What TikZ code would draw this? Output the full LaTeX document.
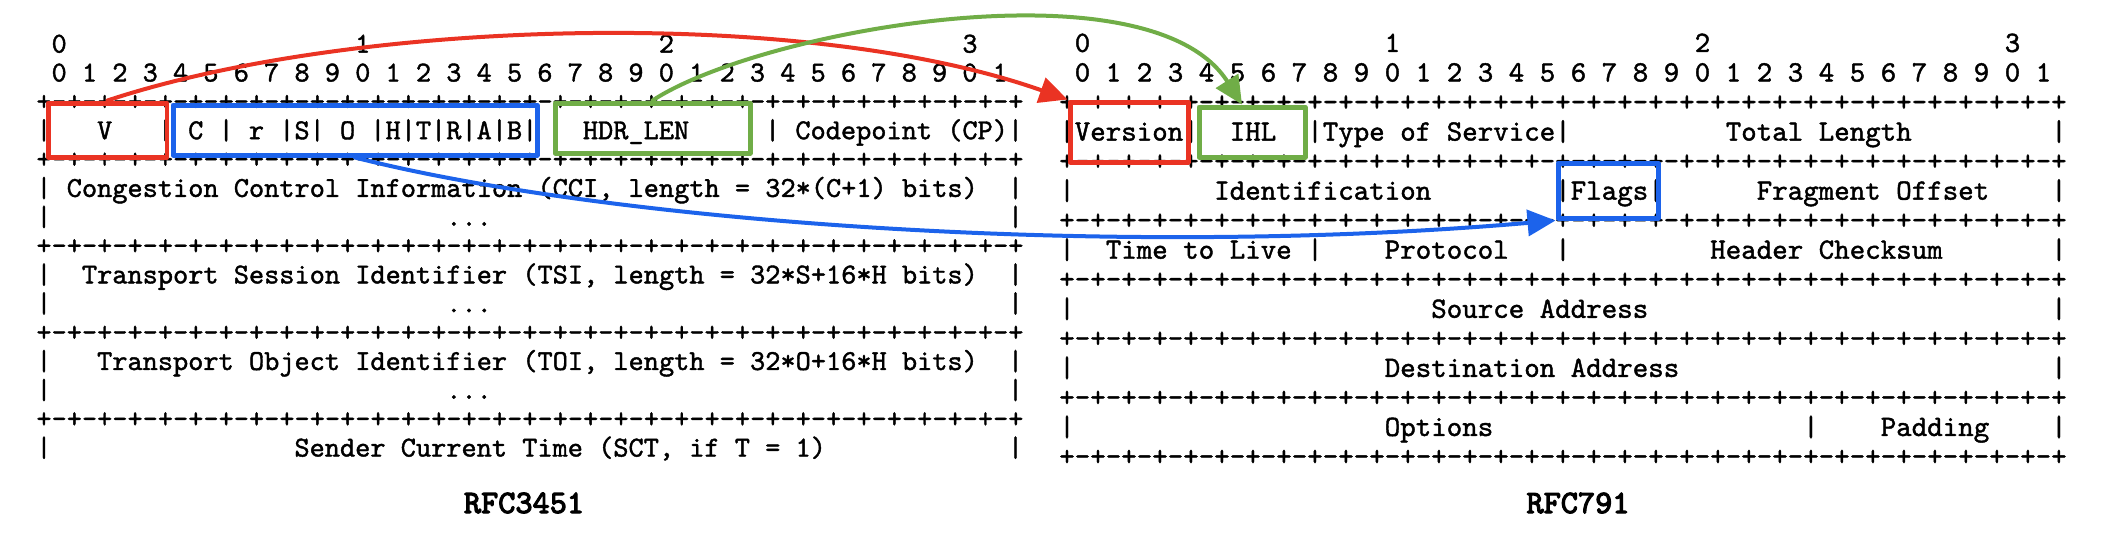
\documentclass[tikz,border=0pt]{standalone}
\usepackage{fontspec}
\usetikzlibrary{arrows.meta}
\newfontfamily\asciifont{lmmono10-regular.otf}[FakeBold=1.4]
\newfontfamily\rfcfont{lmmono10-regular.otf}[FakeBold=3.5]
\definecolor{boxred}{RGB}{234,51,35}
\definecolor{boxblue}{RGB}{28,99,235}
\definecolor{boxgreen}{RGB}{112,173,71}
\newcommand\sepline{+\foreach \i in {1,...,32}{-+}}
\begin{document}
\frenchspacing
\begin{tikzpicture}[line join=round,line cap=round,x=0.1mm,y=-0.1mm]
	\tikzset{asc/.style={anchor=base west,inner sep=0pt,outer sep=0pt},
		fieldbox/.style={draw,line width=0.5mm,inner sep=0pt},
		link/.style={line width=0.4mm,-{Triangle[length=2.8mm,width=2.6mm]}},
		rfc/.style={font=\fontsize{9.3}{10}\selectfont\rfcfont,inner sep=0pt}}
	\useasboundingbox (0,0) rectangle (2124,548);
	%RFC3451
	\begin{scope}[shift={(44,52.65)},x=1.518mm,y=-2.885mm,every node/.append style={font=\fontsize{8.23}{9}\selectfont\asciifont}]
		\foreach \t in {0,...,3} \node[asc] (lt\t) at (20*\t+0.5,0) {\t};
		\foreach \b [evaluate=\b as \d using {int(mod(\b,10))}] in {0,...,31} \node[asc] (lb\b) at (2*\b+0.5,1) {\d};
		\foreach \r in {2,4,7,10,13} \node[asc] (ls\r) at (-0.5,\r) {\sepline};
		\foreach \r in {3,5,6,8,9,11,12,14} {\node[asc] (lw\r) at (-0.5,\r) {|}; \node[asc] (le\r) at (63.5,\r) {|};}
		\foreach \r in {6,9,12} \node[asc] (ld\r) at (26.5,\r) {...};
		\foreach \c/\r/\t in {4/3/V,8/3/|,10/3/C,12/3/|,14/3/r,16/3/|S|,20/3/O,22/3/|H|T|R|A|B|,36/3/HDR\_LEN,48/3/|,50/3/Codepoint (CP),
			2/5/{Congestion Control Information (CCI, length = 32*(C+1) bits)},
			3/8/{Transport Session Identifier (TSI, length = 32*S+16*H bits)},
			4/11/{Transport Object Identifier (TOI, length = 32*O+16*H bits)},
			17/14/{Sender Current Time (SCT, if T = 1)}}
		\node[asc] (l\c-\r) at (\c-0.5,\r) {\t};
	\end{scope}
	%RFC791
	\begin{scope}[shift={(1067,51.96)},x=1.55mm,y=-2.954mm,every node/.append style={font=\fontsize{8.4}{9}\selectfont\asciifont}]
		\foreach \t in {0,...,3} \node[asc] (rt\t) at (20*\t+0.5,0) {\t};
		\foreach \b [evaluate=\b as \d using {int(mod(\b,10))}] in {0,...,31} \node[asc] (rb\b) at (2*\b+0.5,1) {\d};
		\foreach \r in {2,4,...,14} \node[asc] (rs\r) at (-0.5,\r) {\sepline};
		\foreach \r in {3,5,...,13} {\node[asc] (rw\r) at (-0.5,\r) {|}; \node[asc] (re\r) at (63.5,\r) {|};}
		\foreach \c/\r/\t in {1/3/Version,8/3/|,11/3/IHL,16/3/|,17/3/Type of Service,32/3/|,43/3/Total Length,
			10/5/Identification,32/5/|Flags|,45/5/Fragment Offset,
			3/7/Time to Live,16/7/|,21/7/Protocol,32/7/|,42/7/Header Checksum,
			24/9/Source Address,21/11/Destination Address,
			21/13/Options,48/13/|,53/13/Padding}
		\node[asc] (r\c-\r) at (\c-0.5,\r) {\t};
	\end{scope}
	%fields
	\node[fieldbox,boxred,minimum width=11.9mm,minimum height=5.4mm] (lctV) at (107.5,130) {};
	\node[fieldbox,boxblue,minimum width=36.4mm,minimum height=5mm] (lctFlags) at (355,130) {};
	\node[fieldbox,boxgreen,minimum width=19.5mm,minimum height=5mm] (lctHdrLen) at (652.5,128) {};
	\node[fieldbox,boxred,minimum width=11.8mm,minimum height=6mm] (ipVersion) at (1129,132) {};
	\node[fieldbox,boxgreen,minimum width=10.6mm,minimum height=5mm] (ipIHL) at (1252,132) {};
	\node[fieldbox,boxblue,minimum width=10mm,minimum height=5.5mm] (ipFlags) at (1608,190.5) {};
	\draw[link,boxred] (lctV.north) .. controls (350,20) and (800,5) .. (ipVersion.north west);
	\draw[link,boxgreen] (lctHdrLen.north) .. controls (760,30) and (1150,-40) .. (ipIHL.110);
	\draw[link,boxblue] (lctFlags.south) .. controls (600,220) and (1100,260) .. (ipFlags.south west);
	\node[rfc] (rfcL) at (524,503) {RFC3451};
	\node[rfc] (rfcR) at (1578,503) {RFC791};
\end{tikzpicture}
\end{document}
